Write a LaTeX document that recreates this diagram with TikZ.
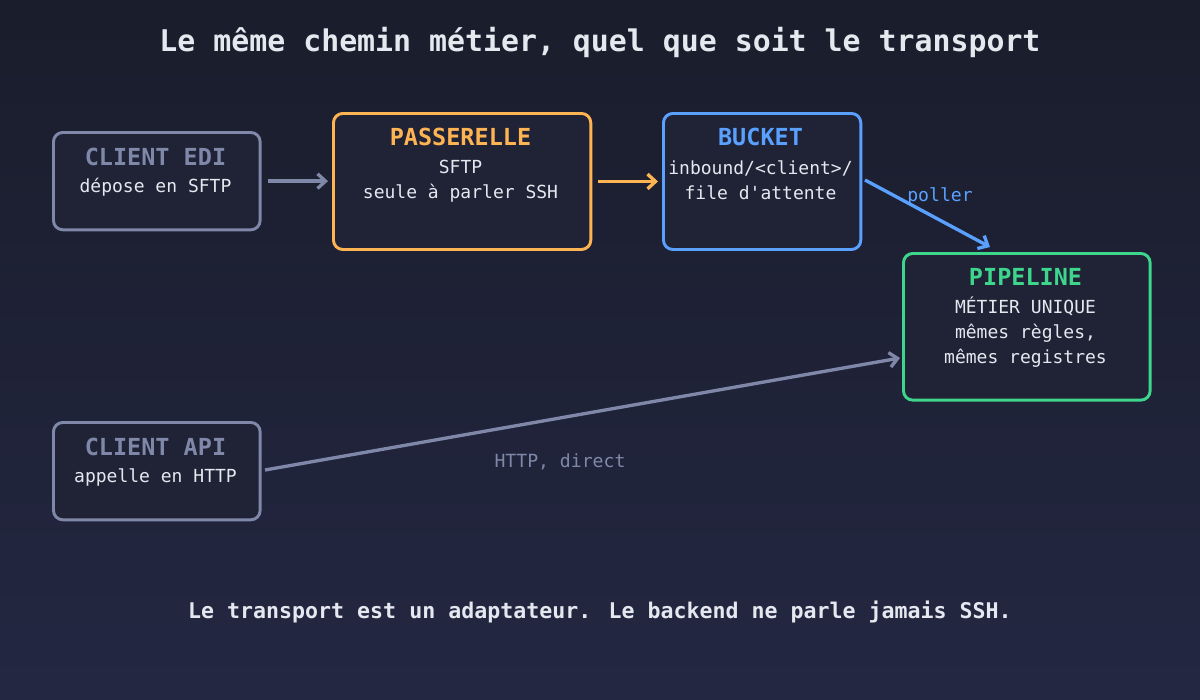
\documentclass[tikz,border=0pt]{standalone}
\usepackage{fontspec}
\setmainfont{DejaVu Sans Mono}
\usetikzlibrary{positioning, arrows.meta}
\definecolor{bgtop}{HTML}{1A1D2B}
\definecolor{bgbot}{HTML}{232742}
\definecolor{boxfill}{HTML}{1F2335}
\definecolor{mgray}{HTML}{7F88A8}
\definecolor{morange}{HTML}{FFB454}
\definecolor{mblue}{HTML}{5AA0FF}
\definecolor{mgreen}{HTML}{3DD68C}
\definecolor{mtext}{HTML}{E6E8F0}
\tikzset{
  box/.style = {draw, line width=2.2pt, rounded corners=7pt, fill=boxfill, anchor=north west, align=center, inner sep=0pt},
  head/.style = {font=\bfseries\fontsize{17.6}{20}\selectfont},
  sub/.style = {font=\fontsize{13.5}{19}\selectfont, text=mtext, align=center},
  link/.style = {line width=2.5pt, -{Straight Barb[length=6pt,width=11pt]}},
  tag/.style = {font=\fontsize{13.6}{14}\selectfont}
}
\begin{document}
\begin{tikzpicture}[x=0.75pt, y=-0.75pt]
  \shade[top color=bgtop, bottom color=bgbot] (0,0) rectangle (1200,700);
  \useasboundingbox (0,0) rectangle (1200,700);
  % titre
  \node (title) [text=mtext, font=\bfseries\fontsize{22.4}{26}\selectfont] at (600,42) {Le même chemin métier, quel que soit le transport};
  % boites
  \node (edi) [box, draw=mgray, minimum width=155pt, minimum height=73pt] at (52,131) {};
  \node [head, text=mgray] at (155.5,157) {CLIENT EDI};
  \node [sub] at (155.5,187) {dépose en SFTP};
  \node (gw) [box, draw=morange, minimum width=193pt, minimum height=102pt] at (332,112) {};
  \node [head, text=morange] at (460.5,137) {PASSERELLE};
  \node [sub] at (460.5,181) {SFTP\\seule à parler SSH};
  \node (bucket) [box, draw=mblue, minimum width=148pt, minimum height=102pt] at (662,112) {};
  \node [head, text=mblue] at (760.5,137) {BUCKET};
  \node [sub] at (760.5,180) {inbound/<client>/\\file d\textquotesingle attente};
  \node (pipe) [box, draw=mgreen, minimum width=185pt, minimum height=110pt] at (902,252) {};
  \node [head, text=mgreen] at (1025.5,277) {PIPELINE};
  \node [sub] at (1025.5,332) {MÉTIER UNIQUE\\mêmes règles,\\mêmes registres};
  \node (api) [box, draw=mgray, minimum width=155pt, minimum height=73pt] at (52,421) {};
  \node [head, text=mgray] at (155.5,447) {CLIENT API};
  \node [sub] at (155.5,477) {appelle en HTTP};
  % liens
  \coordinate (bkout) at (865,180);
  \coordinate (pipein) at (990,247);
  \coordinate (apiout) at (265,470);
  \coordinate (pipeside) at (900,358);
  \draw [link, mgray] (edi.east) ++(5pt,0) -- ([xshift=-3pt]gw.west |- edi.east);
  \draw [link, morange] (gw.east) ++(4pt,0) -- ([xshift=-3pt]bucket.west |- gw.east);
  \draw [link, mblue] (bkout) -- (pipein);
  \node (poll) [tag, text=mblue] at (940,196) {poller};
  \draw [link, mgray] (apiout) -- (pipeside);
  \node (http) [tag, text=mgray] at (560,462) {HTTP, direct};
  % pied
  \node (foot) [text=mtext, font=\bfseries\fontsize{16.2}{18}\selectfont] at (600,612) {Le transport est un adaptateur. Le backend ne parle jamais SSH.};
\end{tikzpicture}
\end{document}
